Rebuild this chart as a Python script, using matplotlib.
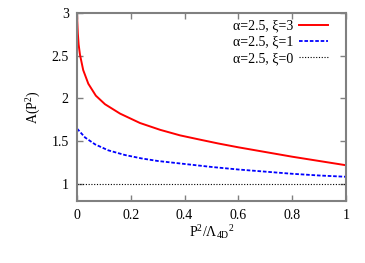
import matplotlib
matplotlib.use("Agg")
import matplotlib.pyplot as plt

# datos
x_xi3 = [0.0, 0.001, 0.003, 0.006, 0.011, 0.023, 0.042, 0.07, 0.104, 0.16, 0.234,
         0.309, 0.383, 0.457, 0.525, 0.6, 0.7, 0.8, 0.9, 1.0]
a_xi3 = [3.0, 2.9, 2.76, 2.63, 2.51, 2.33, 2.17, 2.03, 1.93, 1.82, 1.71,
         1.63, 1.565, 1.515, 1.47, 1.425, 1.37, 1.315, 1.265, 1.215]

x_xi1 = [0.0, 0.03, 0.067, 0.116, 0.178, 0.24, 0.3, 0.4, 0.5, 0.6, 0.7, 0.8, 0.9, 1.0]
a_xi1 = [1.645, 1.54, 1.46, 1.39, 1.335, 1.295, 1.265, 1.23, 1.195, 1.165, 1.14,
         1.115, 1.095, 1.08]

x_xi0 = [0.0, 1.0]
a_xi0 = [1.0, 1.0]

etiquetas = ["α=2.5, ξ=3", "α=2.5, ξ=1", "α=2.5, ξ=0"]

plt.rcParams["font.family"] = ["Liberation Serif", "DejaVu Serif"]
plt.rcParams["mathtext.fontset"] = "custom"
plt.rcParams["mathtext.rm"] = "Liberation Serif"
plt.rcParams["mathtext.it"] = "Liberation Serif"
plt.rcParams["font.size"] = 10

fig = plt.figure(figsize=(3.65, 2.63), dpi=100)
ax = fig.add_axes([0.211, 0.237, 0.737, 0.714])

ax.plot(x_xi3, a_xi3, color="#ff0000", lw=1.4, label=etiquetas[0])
ax.plot(x_xi1, a_xi1, color="#0000ff", lw=1.3, ls=(0, (2, 1)), label=etiquetas[1])
ax.plot(x_xi0, a_xi0, color="#000000", lw=0.8, ls=(0, (1, 1.5)), label=etiquetas[2])

ax.set_xlim(0, 1)
ax.set_ylim(0.8, 3)
ax.set_xticks([0, 0.2, 0.4, 0.6, 0.8, 1])
ax.set_xticklabels(["0", "0.2", "0.4", "0.6", "0.8", "1"])
ax.set_yticks([1, 1.5, 2, 2.5, 3])
ax.set_yticklabels(["1", "1.5", "2", "2.5", "3"])

for s in ax.spines.values():
    s.set_color("#808080")
    s.set_linewidth(1.5)
ax.tick_params(direction="in", top=True, right=True, length=4, width=1,
               color="#808080", labelsize=10, pad=6)

ax.set_ylabel(r"A(P$^2$)", fontsize=10, labelpad=6)
ax.set_xlabel(r"P$^2$/$\Lambda_{\rm 4D}{}^2$", fontsize=10, labelpad=1)

ax.legend(loc="upper right", frameon=False, markerfirst=False, fontsize=10,
          handlelength=2.1, handletextpad=0.4, labelspacing=0.25,
          borderaxespad=0.0, bbox_to_anchor=(0.955, 0.995))

fig.savefig("out.png", dpi=100)
